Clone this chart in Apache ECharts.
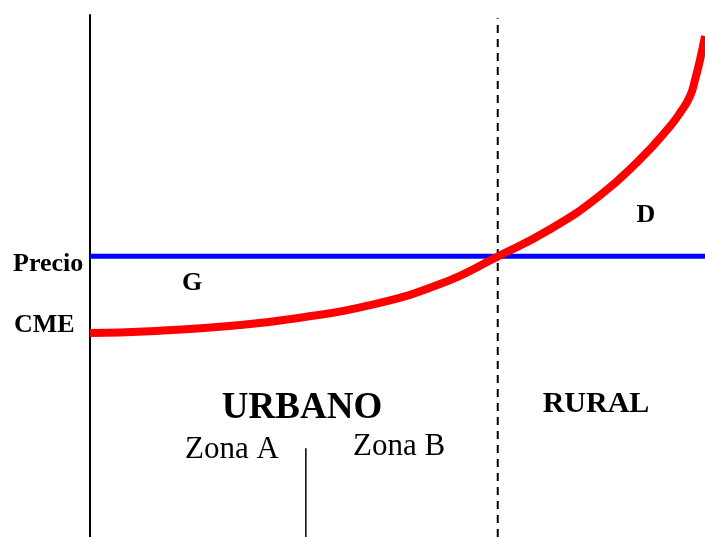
<!DOCTYPE html>
<html>
<head>
<meta charset="utf-8">
<script src="https://cdn.jsdelivr.net/npm/echarts@6/dist/echarts.min.js"></script>
<style>
  html, body { margin: 0; padding: 0; background: #fff; }
  #chart { width: 705px; height: 537px; }
</style>
</head>
<body>
<div id="chart"></div>
<script>
// curva CME (distancia, costo medio)
var curveX = [0, 9.76, 24.39, 34.15, 45.53, 56.91, 66.34, 74.8, 82.93, 89.43, 94.31, 95.93, 97.56, 98.37, 99.19, 100];
var curveY = [39.08, 39.43, 40.63, 42.01, 44.43, 48.45, 53.77, 58.95, 65.46, 72.36, 78.68, 81.23, 84.43, 87.55, 91.38, 95.98];

// precio y limites de zonas
var priceLevel = 53.8;
var priceRange = [0, 100];
var ruralLimit = 66.3;
var ruralLimitTop = 99.4;
var zoneLimit = 35.1;
var zoneLimitTop = 17;

var serif = '"Liberation Serif", "Times New Roman", serif';

var chart = echarts.init(document.getElementById('chart'));

var curveData = curveX.map(function(x, i) { return [x, curveY[i]]; });

function label(text, x, y, size, bold, align) {
    return {
        type: 'text',
        x: x,
        y: y,
        style: {
            text: text,
            font: (bold ? 'bold ' : '') + size + 'px ' + serif,
            fill: '#000',
            textAlign: align || 'center',
            textVerticalAlign: 'middle'
        }
    };
}

chart.setOption({
    animation: false,
    backgroundColor: '#fff',
    grid: { left: 90, right: 0, top: 15, bottom: 0 },
    xAxis: {
        type: 'value',
        min: 0,
        max: 100,
        show: false
    },
    yAxis: {
        type: 'value',
        min: 0,
        max: 100,
        axisLine: { show: true, lineStyle: { color: '#000', width: 2 } },
        axisTick: { show: false },
        axisLabel: { show: false },
        splitLine: { show: false }
    },
    series: [
        {
            type: 'line',
            data: [[priceRange[0], priceLevel], [priceRange[1], priceLevel]],
            symbol: 'none',
            lineStyle: { color: '#0000ff', width: 5 },
            z: 2
        },
        {
            type: 'line',
            data: [[ruralLimit, 0], [ruralLimit, ruralLimitTop]],
            symbol: 'none',
            lineStyle: { color: '#000', width: 2, type: [8, 6] },
            z: 1
        },
        {
            type: 'line',
            data: [[zoneLimit, 0], [zoneLimit, zoneLimitTop]],
            symbol: 'none',
            lineStyle: { color: '#000', width: 1.5 },
            z: 1
        },
        {
            type: 'line',
            data: curveData,
            symbol: 'none',
            smooth: 0.5,
            lineStyle: { color: '#ff0000', width: 8 },
            z: 3
        }
    ],
    graphic: [
        label('Precio', 13, 264, 26, true, 'left'),
        label('CME', 14, 325, 26, true, 'left'),
        label('G', 192, 283, 26, true),
        label('D', 646, 215, 26, true),
        label('URBANO', 302, 408, 37, true),
        label('RURAL', 596, 404, 30, true),
        label('Zona A', 232, 450, 31, false),
        label('Zona B', 399, 447, 31, false)
    ]
});
</script>
</body>
</html>
